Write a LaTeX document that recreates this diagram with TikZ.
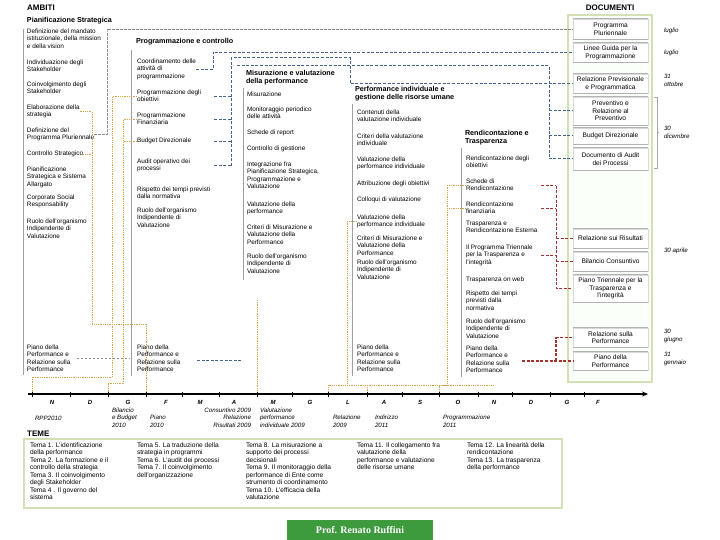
\documentclass[tikz,border=0pt]{standalone}
\usepackage{fontspec}
\setmainfont{Liberation Sans}
\newfontfamily\serifb{Liberation Serif}
\usetikzlibrary{arrows.meta}
\definecolor{bluec}{HTML}{44648F}
\definecolor{orangec}{HTML}{D8A24A}
\definecolor{redc}{HTML}{A3322F}
\definecolor{greenb}{HTML}{D2E0B4}
\definecolor{profg}{HTML}{3D9B3D}
\definecolor{grayl}{HTML}{8A8A8A}
\begin{document}
\begin{tikzpicture}[x=1pt,y=-1pt,
  item/.style={anchor=north west,inner sep=0pt,outer sep=0pt,align=left,font=\fontsize{6.4}{7.5}\selectfont,yshift=3.4pt,execute at begin node=\strut},
  ttl/.style={item,font=\fontsize{7.2}{8}\selectfont\bfseries},
  hdr/.style={inner sep=0pt,font=\fontsize{8}{9}\selectfont\bfseries},
  doc/.style={draw=gray!30,fill=white,minimum width=75pt,align=center,inner sep=0pt,font=\fontsize{6.6}{7.6}\selectfont},
  docrule/.style={draw=gray!60,line width=1pt},
  dlab/.style={item,font=\fontsize{6.2}{8}\selectfont\itshape},
  colline/.style={draw=gray!75,line width=0.7pt},
  gdash/.style={draw=grayl,line width=0.9pt,dash pattern=on 2.4pt off 1.6pt},
  bdash/.style={draw=bluec,line width=1pt,dash pattern=on 3pt off 1.6pt},
  odot/.style={draw=orangec,line width=0.9pt,dash pattern=on 0.9pt off 0.9pt},
  rdash/.style={draw=redc,line width=1pt,dash pattern=on 3pt off 1.6pt},
  mon/.style={inner sep=0pt,font=\fontsize{6}{8}\selectfont\bfseries\itshape},
  tlab/.style={item,font=\fontsize{6.2}{7.5}\selectfont\itshape},
  tema/.style={item,font=\fontsize{6.6}{7.5}\selectfont},
]
\path[use as bounding box] (0,0) rectangle (720,540);
\fill[white] (0,0) rectangle (720,540);

% headers
\node[hdr,anchor=west] (hA) at (27,8) {AMBITI};
\node[hdr] (hD) at (610,8) {DOCUMENTI};

% documents frame
\draw[greenb,line width=2pt,fill=green!2!white] (568,15) rectangle (652,382);
\node[doc,minimum height=20pt] (d1) at (610.5,29) {Programma\\Pluriennale};
\node[doc,minimum height=19pt] (d2) at (610.5,52.5) {Linee Guida per la\\Programmazione};
\node[doc,minimum height=19pt] (d3) at (610.5,83.5) {Relazione Previsionale\\e Programmatica};
\node[doc,minimum height=28pt] (d4) at (610.5,111) {Preventivo e\\Relazione al\\Preventivo};
\node[doc,minimum height=16pt] (d5) at (610.5,136) {Budget Direzionale};
\node[doc,minimum height=22pt] (d6) at (610.5,159) {Documento di Audit\\dei Processi};
\node[doc,minimum height=19pt] (d7) at (610.5,238.5) {Relazione sui Risultati};
\node[doc,minimum height=19pt] (d8) at (610.5,261.5) {Bilancio Consuntivo};
\node[doc,minimum height=27pt] (d9) at (610.5,288.5) {Piano Triennale per la\\Trasparenza e\\l'integrit\`a};
\node[doc,minimum height=19pt] (d10) at (610.5,337.5) {Relazione sulla\\Performance};
\node[doc,minimum height=18pt] (d11) at (610.5,361) {Piano della\\Performance};
\foreach \d in {d1,d2,d3,d4,d5,d6,d7,d8,d9,d10,d11}{
  \draw[docrule] (\d.north west) -- (\d.north east);
  \draw[docrule] (\d.south west) -- (\d.south east);}

% dates
\node[dlab] (dt1) at (664,30) {luglio};
\node[dlab] (dt2) at (664,52) {luglio};
\node[dlab] (dt3) at (664,78) {31\\ottobre};
\node[dlab] (dt4) at (664,130) {30\\dicembre};
\node[dlab] (dt5) at (664,250) {30 aprile};
\node[dlab] (dt6) at (664,333) {30\\giugno};
\node[dlab] (dt7) at (664,356) {31\\gennaio};
\draw[gray!70,line width=0.6pt] (654,97) -- (657,97) -- (657,168) -- (654,168);
\draw[gray!70,line width=0.6pt] (657,132) -- (659,132);

% column rules
\draw[colline] (23,29) -- (23,375);
\draw[colline] (131,50) -- (131,376);
\draw[colline] (243,88) -- (243,280);
\draw[colline] (352,104) -- (352,376);
\draw[colline] (461,148) -- (461,377);

% column 1
\node[ttl] (t1) at (27,20) {Pianificazione Strategica};
\node[item] (c1a) at (27,32) {Definizione del mandato\\istituzionale, della mission\\e della vision};
\node[item] (c1b) at (27,63) {Individuazione degli\\Stakeholder};
\node[item] (c1c) at (27,85) {Coinvolgimento degli\\Stakeholder};
\node[item] (c1d) at (27,108) {Elaborazione della\\strategia};
\node[item] (c1e) at (27,131) {Definizione del\\Programma Pluriennale};
\node[item] (c1f) at (27,154) {Controllo Strategico};
\node[item] (c1g) at (27,170) {Pianificazione\\Strategica e Sistema\\Allargato};
\node[item] (c1h) at (27,198) {Corporate Social\\Responsability};
\node[item] (c1i) at (27,222) {Ruolo dell'organismo\\Indipendente di\\Valutazione};
\node[item] (c1j) at (27,348) {Piano della\\Performance e\\Relazione sulla\\Performance};

% column 2
\node[ttl] (t2) at (136,41) {Programmazione e controllo};
\node[item] (c2a) at (137,62) {Coordinamento delle\\attivit\`a di\\programmazione};
\node[item] (c2b) at (137,93) {Programmazione degli\\obiettivi};
\node[item] (c2c) at (137,116) {Programmazione\\Finanziaria};
\node[item] (c2d) at (137,141) {Budget Direzionale};
\node[item] (c2e) at (137,162) {Audit operativo dei\\processi};
\node[item] (c2f) at (137,190) {Rispetto dei tempi previsti\\dalla normativa};
\node[item] (c2g) at (137,211) {Ruolo dell'organismo\\Indipendente di\\Valutazione};
\node[item] (c2h) at (137,348) {Piano della\\Performance e\\Relazione sulla\\Performance};

% column 3
\node[ttl] (t3) at (246,74) {Misurazione e valutazione\\della performance};
\node[item] (c3a) at (247,95) {Misurazione};
\node[item] (c3b) at (247,110) {Monitoraggio periodico\\delle attivit\`a};
\node[item] (c3c) at (247,133) {Schede di report};
\node[item] (c3d) at (247,149) {Controllo di gestione};
\node[item] (c3e) at (247,165) {Integrazione fra\\Pianificazione Strategica,\\Programmazione e\\Valutazione};
\node[item] (c3f) at (247,205) {Valutazione della\\performance};
\node[item] (c3g) at (247,228) {Criteri di Misurazione e\\Valutazione della\\Performance};
\node[item] (c3h) at (247,257) {Ruolo dell'organismo\\Indipendente di\\Valutazione};

% column 4
\node[ttl] (t4) at (355,90) {Performance individuale e\\gestione delle risorse umane};
\node[item] (c4a) at (357,113) {Contenuti della\\valutazione individuale};
\node[item] (c4b) at (357,137) {Criteri della valutazione\\individuale};
\node[item] (c4c) at (357,160) {Valutazione della\\performance individuale};
\node[item] (c4d) at (357,184) {Attribuzione degli obiettivi};
\node[item] (c4e) at (357,200) {Colloqui di valutazione};
\node[item] (c4f) at (357,218) {Valutazione della\\performance individuale};
\node[item] (c4g) at (357,239) {Criteri di Misurazione e\\Valutazione della\\Performance};
\node[item] (c4h) at (357,263) {Ruolo dell'organismo\\Indipendente di\\Valutazione};
\node[item] (c4i) at (357,348) {Piano della\\Performance e\\Relazione sulla\\Performance};

% column 5
\node[ttl] (t5) at (465,134) {Rendicontazione e\\Trasparenza};
\node[item] (c5a) at (466,159) {Rendicontazione degli\\obiettivi};
\node[item] (c5b) at (466,182) {Schede di\\Rendicontazione};
\node[item] (c5c) at (466,205) {Rendicontazione\\finanziaria};
\node[item] (c5d) at (466,224) {Trasparenza e\\Rendicontazione Esterna};
\node[item] (c5e) at (466,248) {Il Programma Triennale\\per la Trasparenza e\\l'integrit\`a};
\node[item] (c5f) at (466,280) {Trasparenza on web};
\node[item] (c5g) at (466,294) {Rispetto dei tempi\\previsti dalla\\normativa};
\node[item] (c5h) at (466,322) {Ruolo dell'organismo\\Indipendente di\\Valutazione};
\node[item] (c5i) at (466,349) {Piano della\\Performance e\\Relazione sulla\\Performance};

% ---------- gray connectors
\coordinate (g1) at (107,30);
\draw[gdash] (c1e.east) -| (g1) |- (d1.west);
\coordinate (g2) at (77,358); \coordinate (g3) at (130,358);
\draw[gdash] (g2) -- (g3);

% ---------- blue connectors
\coordinate (b1) at (213,52);
\draw[bdash] (c2a.east) -| (b1) |- (d2.west);
\coordinate (bx0) at (214,0); \coordinate (bx1) at (231,0);
\foreach \n in {c2b,c2c,c2d,c2e}{\draw[bdash] (\n.east -| bx0) -- (\n.east -| bx1);}
\coordinate (b2) at (231,58); \coordinate (b3) at (350,0);
\draw[bdash] (c2e.east -| bx1) -- (b2) -| (b3 |- d3.west) -- (d3.west);
\coordinate (b4) at (237,66); \coordinate (b5) at (549,0);
\draw[bdash] (b4) -| (b5 |- d6.west) -- (d6.west);
\draw[bdash] (b5 |- d4.west) -- (d4.west);
\draw[bdash] (b5 |- d5.west) -- (d5.west);
\coordinate (b6) at (197,360); \coordinate (b7) at (241,360);
\draw[bdash] (b6) -- (b7);

% ---------- red connectors
\coordinate (r0) at (541,0); \coordinate (r1) at (556,0);
\foreach \n in {c5b,c5c,c5e}{\draw[rdash] (\n.east -| r0) -- (\n.east -| r1);}
\draw[rdash] (r1 |- c5b.east) -- (r1 |- d9.west) -- (d9.west);
\draw[rdash] (r1 |- d7.west) -- (d7.west);
\draw[rdash] (r1 |- d8.west) -- (d8.west);
\coordinate (r2) at (522,0);
\draw[rdash,line width=1.3pt] (r2 |- d11.west) -- (d11.west);
\draw[rdash,line width=1.3pt] (r1 |- d11.west) -- (r1 |- d10.west) -- (d10.west);

% ---------- orange dotted connectors and timeline marks
\coordinate (oa) at (92,324); \coordinate (ob) at (146,392);
\draw[odot] (c1d.east) -| (oa) -| (ob);
\draw[odot] (c1f.east) -- (c1f.east -| oa);
\coordinate (oc) at (112,377); \coordinate (od) at (32,392);
\draw[odot] (c2b.west) -| (oc) -| (od);
\coordinate (oe) at (123,383); \coordinate (of) at (108,392);
\draw[odot] (c2c.west) -| (oe) -| (of);
\draw[odot] (c2d.west) -- (c2d.west -| oe);
\coordinate (og) at (347,385); \coordinate (oh) at (328,392);
\draw[odot] (c4f.west) -| (og) -| (oh);
\coordinate (oi) at (447,385); \coordinate (oj) at (439,392);
\draw[odot] (c5b.west) -| (oi) -| (oj);
\draw[odot] (c5c.west) -- (c5c.west -| oi);
\coordinate (ok) at (367,392); \coordinate (ol) at (493,385);
\draw[odot] (og) -- (ol);
\draw[odot] (og -| ok) -- (ok);
\coordinate (om) at (257,300); \coordinate (on) at (257,392);
\draw[odot] (om) -- (on);

% ---------- timeline
\coordinate (tlS) at (28,394); \coordinate (tlE) at (648,394);
\draw[line width=1.1pt,-{Stealth[length=6pt,width=5pt]}] (tlS) -- (tlE);
\foreach \x in {32,70,108,146,182,219,257,292,328,367,402,439,478,512,550,584}
  {\draw[line width=1pt] (\x,391.5) -- (\x,396.5);}
\foreach \x/\m [count=\i] in {52/N,90/D,128/G,166/F,200/M,234/A,273/M,310/G,348/L,384/A,420/S,458/O,494/N,531/D,567/G,598/F}
  {\node[mon] (m\i) at (\x,402.5) {\m};}
\node[tlab] (l1) at (35,418.5) {RPP2010};
\node[tlab] (l2) at (112,411) {Bilancio\\e Budget\\2010};
\node[tlab] (l3) at (150,418.5) {Piano\\2010};
\node[tlab,anchor=north east,align=right] (l4) at (251,411) {Consuntivo 2009\\Relazione\\Risultati 2009};
\node[tlab] (l5) at (260,411) {Valutazione\\performance\\individuale 2009};
\node[tlab] (l6) at (333,418.5) {Relazione\\2009};
\node[tlab] (l7) at (375,418.5) {Indirizzo\\2011};
\node[tlab] (l8) at (443,418.5) {Programmazione\\2011};

% ---------- TEME
\node[hdr,anchor=west] (tm) at (27,434) {TEME};
\draw[greenb,line width=1.5pt] (24,439) rectangle (562,508);
\node[tema] (te1) at (30,446) {Tema 1. L'identificazione\\della performance\\Tema 2. La formazione e il\\controllo della strategia\\Tema 3. Il coinvolgimento\\degli Stakeholder\\Tema 4 . Il governo del\\sistema};
\node[tema] (te2) at (137,446) {Tema 5. La traduzione della\\strategia in programmi\\Tema 6. L'audit dei processi\\Tema 7. Il coinvolgimento\\dell'organizzazione};
\node[tema] (te3) at (246,446) {Tema 8. La misurazione a\\supporto dei processi\\decisionali\\Tema 9. Il monitoraggio della\\performance di Ente come\\strumento di coordinamento\\Tema 10. L'efficacia della\\valutazione};
\node[tema] (te4) at (357,446) {Tema 11. Il collegamento fra\\valutazione della\\performance e valutazione\\delle risorse umane};
\node[tema] (te5) at (467,446) {Tema 12. La linearit\`a della\\rendicontazione\\Tema 13. La trasparenza\\della performance};

% ---------- author
\node[fill=profg,minimum width=146pt,minimum height=21pt,inner sep=0pt,text=white,font=\serifb\fontsize{10}{12}\selectfont\bfseries] (prof) at (360,530) {Prof. Renato Ruffini};
\end{tikzpicture}
\end{document}
